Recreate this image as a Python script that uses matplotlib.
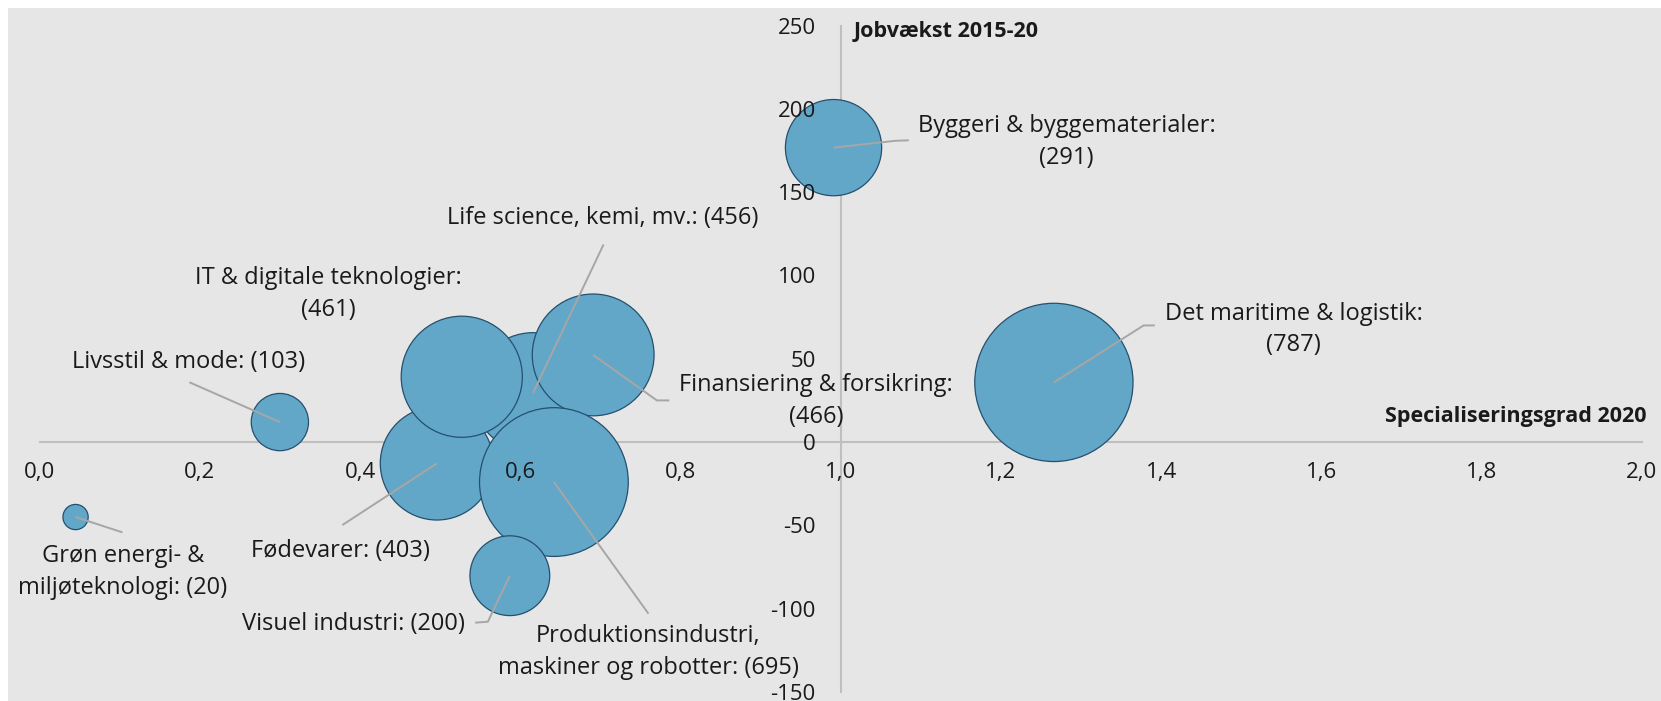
import matplotlib
matplotlib.use("Agg")
import matplotlib.pyplot as plt
import numpy as np
from matplotlib.patches import Rectangle

plt.rcParams['font.family'] = ['Open Sans', 'DejaVu Sans']

# ---- data (drawing order) ----
names = ["Grøn energi- &\nmiljøteknologi: (20)",
         "Livsstil & mode: (103)",
         "Life science, kemi, mv.: (456)",
         "Fødevarer: (403)",
         "Finansiering & forsikring:\n(466)",
         "IT & digitale teknologier:\n(461)",
         "Produktionsindustri,\nmaskiner og robotter: (695)",
         "Visuel industri: (200)",
         "Byggeri & byggematerialer:\n(291)",
         "Det maritime & logistik:\n(787)"]
specialisering = [0.045, 0.300, 0.616, 0.496, 0.691, 0.527, 0.642, 0.587, 0.991, 1.266]
jobvaekst = [-45.0, 12.0, 29.5, -12.8, 52.3, 39.2, -24.0, -80.2, 176.7, 35.8]
beskaeftigede = [20, 103, 456, 403, 466, 461, 695, 200, 291, 787]

x_ticks = [0.0, 0.2, 0.4, 0.6, 0.8, 1.0, 1.2, 1.4, 1.6, 1.8, 2.0]
y_ticks = [-150, -100, -50, 0, 50, 100, 150, 200, 250]

# ---- layout for labels: text centre, optional leader path (elbow, end) ----
label_pos = [(0.104, -78.0), (0.186, 47.9), (0.703, 134.4), (0.376, -65.3),
             (0.969, 24.7), (0.361, 88.9), (0.760, -126.0), (0.392, -109.2),
             (1.282, 180.1), (1.565, 67.6)]
leaders = [[(0.1035, -54.2)],
           [(0.187, 35.9)],
           [(0.704, 118.6)],
           [(0.378, -49.8)],
           [(0.7705, 25.0), (0.786, 25.0)],
           None,
           [(0.760, -103.0)],
           [(0.5596, -107.8), (0.5437, -108.4)],
           [(1.068, 180.8), (1.085, 181.1)],
           [(1.378, 70.0), (1.392, 70.0)]]

W, H = 1661, 701
fig = plt.figure(figsize=(W / 100, H / 100), dpi=100, facecolor="white")
bg = Rectangle((8 / W, 0), 1 - 8 / W, 1 - 8 / H, transform=fig.transFigure,
               facecolor="#E6E6E6", edgecolor="none", linewidth=0, zorder=-10)
fig.patches.append(bg)

left, right, top, bottom = 39.5, 1642, 25.5, 692
ax = fig.add_axes([left / W, 1 - bottom / H, (right - left) / W, (bottom - top) / H])
ax.set_zorder(1)
ax.patch.set_visible(False)
ax.set_xlim(0, 2.0)
ax.set_ylim(-150, 250)

for s in ["top", "right"]:
    ax.spines[s].set_visible(False)
ax.spines["left"].set_position(("data", 1.0))
ax.spines["bottom"].set_position(("data", 0))
for s in ["left", "bottom"]:
    ax.spines[s].set_color("#BFBFBF")
    ax.spines[s].set_linewidth(1.5)
    ax.spines[s].set_zorder(1)

ax.set_xticks(x_ticks)
ax.set_xticklabels([f"{v:.1f}".replace(".", ",") for v in x_ticks])
ax.set_yticks(y_ticks)
ax.set_yticklabels([str(v) for v in y_ticks])
ax.tick_params(axis="both", length=0, labelsize=16, labelcolor="#1a1a1a")
ax.tick_params(axis="x", pad=14)
ax.tick_params(axis="y", pad=18)
ax.xaxis.set_zorder(6)
ax.yaxis.set_zorder(6)

sizes = np.array(beskaeftigede, dtype=float) * 16.5
ax.scatter(specialisering, jobvaekst, s=sizes, c="#63A7C8", edgecolors="#24506E",
           linewidths=0.9, zorder=3, clip_on=False)

for i, name in enumerate(names):
    tx, ty = label_pos[i]
    ax.text(tx, ty, name, ha="center", va="center", fontsize=17, color="#1a1a1a",
            linespacing=1.4, zorder=5)
    if leaders[i] is not None:
        pts = [(specialisering[i], jobvaekst[i])] + leaders[i]
        xs, ys = zip(*pts)
        ax.plot(xs, ys, color="#A6A6A6", lw=1.4, zorder=4, solid_capstyle="butt")

fig.text(854 / W, 1 - 31.8 / H, "Jobvækst 2015-20", ha="left", va="center",
         fontsize=15.5, fontweight="bold", color="#1a1a1a")
fig.text(1646.5 / W, 1 - 416 / H, "Specialiseringsgrad 2020", ha="right", va="center",
         fontsize=15.5, fontweight="bold", color="#1a1a1a")

fig.savefig("out.png", dpi=100, facecolor="white")
